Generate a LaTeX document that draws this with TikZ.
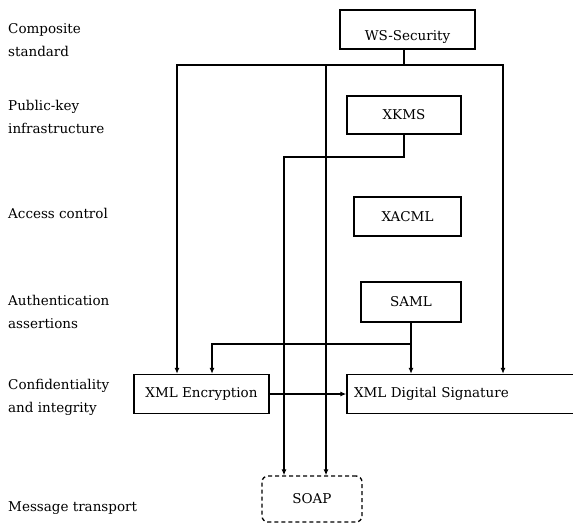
\documentclass[tikz,border=0pt]{standalone}
\usepackage{fontspec}
\setmainfont{DejaVu Serif}
\usetikzlibrary{arrows.meta}
\begin{document}
\begin{tikzpicture}[x=1pt,y=-1pt,
  box/.style={draw,line width=1.3pt,inner sep=0pt,font=\fontsize{13.5}{15}\selectfont},
  lbl/.style={anchor=west,align=left,inner sep=0pt,font=\fontsize{13.5}{23}\selectfont},
  conn/.style={line width=1.3pt},
  arr/.style={line width=1.3pt,-{Latex[length=6pt,width=5pt]}}]
\useasboundingbox (0,0) rectangle (573,523);
% boxes
\node[box,minimum width=135pt,minimum height=39pt] (WS) at (407.5,29.5) {\raisebox{-11pt}[0pt][0pt]{WS-Security}};
\node[box,minimum width=114pt,minimum height=38pt] (XKMS) at (404,115) {XKMS};
\node[box,minimum width=107pt,minimum height=39pt] (XACML) at (407.5,216.5) {XACML};
\node[box,minimum width=100pt,minimum height=40pt] (SAML) at (411,302) {SAML};
\node[box,minimum width=135pt,minimum height=39pt] (ENC) at (201.5,394) {XML Encryption};
\node[box,minimum width=231pt,minimum height=39pt,text width=217pt,align=left] (DS) at (462.5,394) {XML Digital Signature};
\node[box,dashed,dash pattern=on 4pt off 3pt,rounded corners=6pt,minimum width=100pt,minimum height=46pt] (SOAP) at (312,499) {SOAP};
% labels
\node[lbl] (L1) at (8,40) {Composite\\standard};
\node[lbl] (L2) at (8,117) {Public-key\\infrastructure};
\node[lbl] (L3) at (8,213) {Access control};
\node[lbl] (L4) at (8,311.5) {Authentication\\assertions};
\node[lbl] (L5) at (8,397) {Confidentiality\\and integrity};
\node[lbl] (L6) at (8,508) {Message transport};
% junctions
\coordinate (j1) at (404,65);
\coordinate (cl) at (177,65);
\coordinate (cr) at (503,65);
\coordinate (cm) at (326,65);
\coordinate (k1) at (404,157);
\coordinate (k2) at (284,157);
\coordinate (s1) at (411,344);
\coordinate (s2) at (212,344);
% connectors
\draw[conn] (WS.south -| j1) -- (j1);
\draw[arr] (j1) -- (cl) -- (cl |- ENC.north);
\draw[arr] (j1) -- (cr) -- (cr |- DS.north);
\draw[arr] (cm) -- (cm |- SOAP.north);
\draw[arr] (XKMS.south -| k1) -- (k1) -- (k2) -- (k2 |- SOAP.north);
\draw[arr] (SAML.south) -- (DS.north -| SAML.south);
\draw[arr] (s1) -- (s2) -- (s2 |- ENC.north);
\draw[arr] (ENC.east) -- (DS.west);
\end{tikzpicture}
\end{document}
